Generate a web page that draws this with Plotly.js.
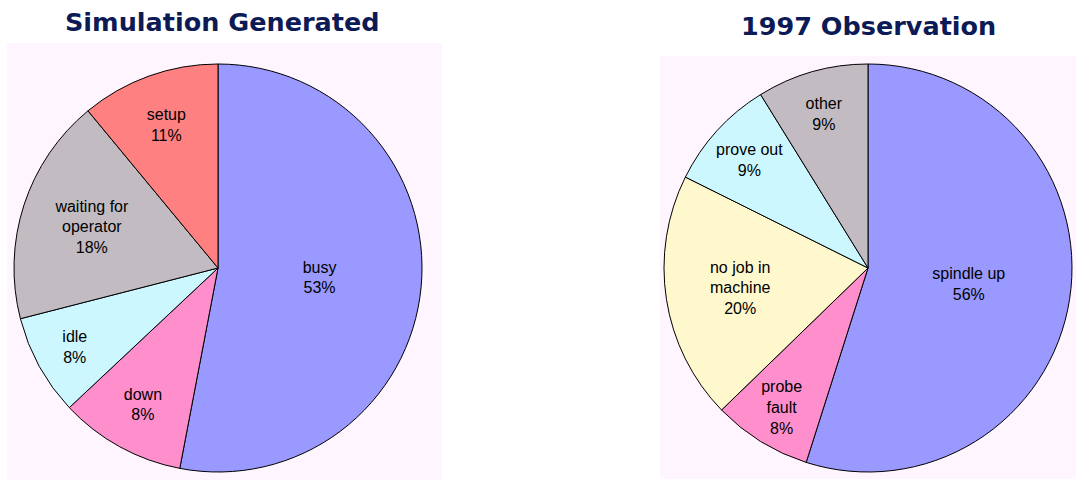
<!DOCTYPE html>
<html>
<head>
<meta charset="utf-8">
<script src="https://cdn.plot.ly/plotly-3.0.1.min.js"></script>
<style>
  html, body { margin: 0; padding: 0; background: #ffffff; }
  #chart { width: 1076px; height: 480px; }
</style>
</head>
<body>
<div id="chart"></div>
<script>
// ---- Data ----
var simTitle = 'Simulation Generated';
var simLabels = ['busy', 'down', 'idle', 'waiting for<br>operator', 'setup'];
var simValues = [53, 10, 8, 18, 11];          // slice sizes as drawn
var simShownPct = [53, 8, 8, 18, 11];         // percentages printed on the slices
var simColors = ['#9999ff', '#ff8fcc', '#ccf7ff', '#c2bcc2', '#ff8080'];

var obsTitle = '1997 Observation';
var obsLabels = ['spindle up', 'probe<br>fault', 'no job in<br>machine', 'prove out', 'other'];
var obsValues = [56, 8, 20, 9, 9];
var obsShownPct = [56, 8, 20, 9, 9];
var obsColors = ['#9999ff', '#ff8fcc', '#fff8cc', '#ccf7ff', '#c2bcc2'];

var W = 1076, H = 480;
function px(x) { return x / W; }
function py(yTop) { return 1 - yTop / H; }

var labelFont = { family: 'Liberation Sans, Arial, sans-serif', size: 16, color: '#000000' };

var traces = [
  {
    type: 'pie',
    labels: simLabels,
    values: simValues,
    customdata: simShownPct,
    sort: false,
    direction: 'clockwise',
    rotation: 0,
    marker: { colors: simColors, line: { color: '#000000', width: 1 } },
    texttemplate: '%{label}<br>%{customdata}%',
    textposition: 'inside',
    insidetextorientation: 'horizontal',
    textfont: labelFont,
    hoverinfo: 'label+percent',
    showlegend: false,
    domain: { x: [px(14), px(422)], y: [py(472), py(64)] }
  },
  {
    type: 'pie',
    labels: obsLabels,
    values: obsValues,
    customdata: obsShownPct,
    sort: false,
    direction: 'clockwise',
    rotation: 0,
    marker: { colors: obsColors, line: { color: '#000000', width: 1 } },
    texttemplate: '%{label}<br>%{customdata}%',
    textposition: 'inside',
    insidetextorientation: 'horizontal',
    textfont: labelFont,
    hoverinfo: 'label+percent',
    showlegend: false,
    domain: { x: [px(664), px(1072)], y: [py(472), py(64)] }
  }
];

var titleFont = { family: 'DejaVu Sans, Verdana, sans-serif', size: 25.5, color: '#0c1a55', weight: 'bold' };

var layout = {
  width: W,
  height: H,
  margin: { l: 0, r: 0, t: 0, b: 0 },
  paper_bgcolor: '#ffffff',
  plot_bgcolor: '#ffffff',
  showlegend: false,
  shapes: [
    { type: 'rect', xref: 'paper', yref: 'paper', layer: 'below',
      x0: px(7), x1: px(442), y0: py(480), y1: py(43),
      fillcolor: '#fff5ff', line: { width: 0 } },
    { type: 'rect', xref: 'paper', yref: 'paper', layer: 'below',
      x0: px(660), x1: px(1076), y0: py(479), y1: py(56),
      fillcolor: '#fff5ff', line: { width: 0 } }
  ],
  annotations: [
    { text: '<b>' + simTitle + '</b>', xref: 'paper', yref: 'paper',
      x: px(222), y: py(22), xanchor: 'center', yanchor: 'middle',
      showarrow: false, font: titleFont },
    { text: '<b>' + obsTitle + '</b>', xref: 'paper', yref: 'paper',
      x: px(868), y: py(26), xanchor: 'center', yanchor: 'middle',
      showarrow: false, font: titleFont }
  ]
};

Plotly.newPlot('chart', traces, layout, { displayModeBar: false, staticPlot: true });
</script>
</body>
</html>
